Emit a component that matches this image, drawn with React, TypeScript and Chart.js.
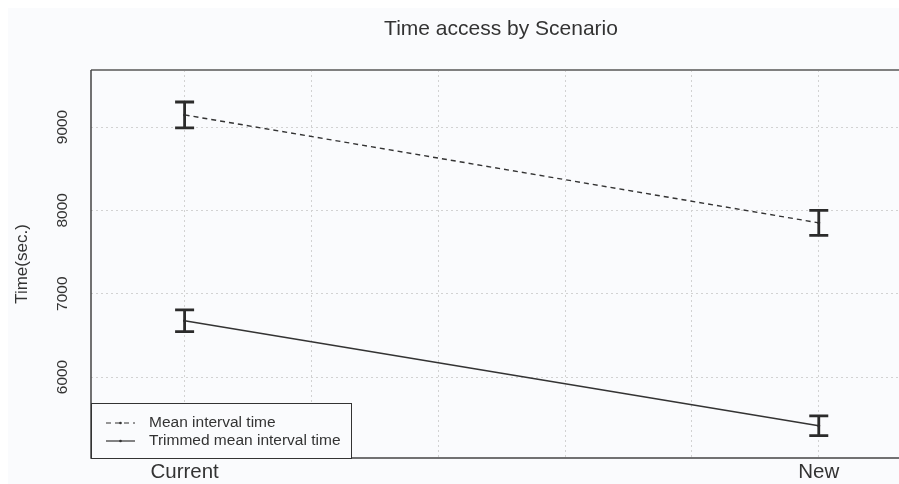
import React, { useEffect, useRef } from "react";
import { Chart, registerables } from "chart.js";

Chart.register(...registerables);

// ---- data ----
const scenarios = ["Current", "New"];
const seriesLabels = ["Mean interval time", "Trimmed mean interval time"];
const meanValues = [9145, 7850];
const meanErrors = [155, 150];
const trimmedValues = [6675, 5415];
const trimmedErrors = [130, 118];
const yTickValues = [6000, 7000, 8000, 9000];
const xGridValues = [1, 1.2, 1.4, 1.6, 1.8, 2];
const chartTitle = "Time access by Scenario";
const yAxisTitle = "Time(sec.)";

const FONT = "'Liberation Sans', Arial, Helvetica, sans-serif";
const BG = "#fafbfd";
const INK = "#333333";

const bgPlugin = {
  id: "bgFill",
  beforeDraw(chart: any) {
    const { ctx, width, height } = chart;
    ctx.save();
    ctx.fillStyle = BG;
    ctx.fillRect(0, 0, width, height);
    ctx.restore();
  },
};

const errorBarPlugin = {
  id: "errorBars",
  afterDatasetsDraw(chart: any) {
    const { ctx } = chart;
    const xs = chart.scales.x;
    const ys = chart.scales.y;
    ctx.save();
    ctx.strokeStyle = "#2b2b2b";
    ctx.lineWidth = 2.8;
    ctx.setLineDash([]);
    chart.data.datasets.forEach((ds: any) => {
      ds.data.forEach((pt: any, i: number) => {
        const e = ds.errors[i];
        const px = xs.getPixelForValue(pt.x);
        const top = ys.getPixelForValue(pt.y + e);
        const bot = ys.getPixelForValue(pt.y - e);
        const cap = 9.5;
        ctx.beginPath();
        ctx.moveTo(px, top);
        ctx.lineTo(px, bot);
        ctx.moveTo(px - cap, top);
        ctx.lineTo(px + cap, top);
        ctx.moveTo(px - cap, bot);
        ctx.lineTo(px + cap, bot);
        ctx.stroke();
      });
    });
    ctx.restore();
  },
};

const frameLegendPlugin = {
  id: "frameLegend",
  afterDraw(chart: any) {
    const { ctx, chartArea } = chart;
    const { left, top, right, bottom } = chartArea;
    ctx.save();
    // frame
    ctx.setLineDash([]);
    ctx.strokeStyle = "#808080";
    ctx.lineWidth = 2;
    ctx.beginPath();
    ctx.moveTo(left, top);
    ctx.lineTo(right, top);
    ctx.stroke();
    ctx.strokeStyle = "#444";
    ctx.lineWidth = 1.5;
    ctx.beginPath();
    ctx.moveTo(left, top);
    ctx.lineTo(left, bottom);
    ctx.lineTo(right, bottom);
    ctx.stroke();

    // legend box (bottom-left inside plot)
    const boxW = 261;
    const boxH = 55;
    const bx = left;
    const by = bottom - boxH;
    ctx.fillStyle = BG;
    ctx.fillRect(bx, by, boxW, boxH);
    ctx.strokeStyle = INK;
    ctx.lineWidth = 1;
    ctx.strokeRect(bx + 0.5, by + 0.5, boxW - 1, boxH);
    ctx.font = `15.5px ${FONT}`;
    ctx.fillStyle = INK;
    ctx.textBaseline = "middle";
    ctx.textAlign = "left";
    chart.data.datasets.forEach((ds: any, i: number) => {
      const yy = by + 20 + i * 18;
      ctx.strokeStyle = INK;
      ctx.lineWidth = 1.2;
      ctx.setLineDash(ds.borderDash || []);
      ctx.beginPath();
      ctx.moveTo(bx + 15, yy);
      ctx.lineTo(bx + 44, yy);
      ctx.stroke();
      ctx.setLineDash([]);
      ctx.beginPath();
      ctx.arc(bx + 29.5, yy, 1.3, 0, Math.PI * 2);
      ctx.fill();
      ctx.fillText(ds.label, bx + 58, yy);
    });
    ctx.restore();
  },
};

export default function App() {
  const ref = useRef<HTMLCanvasElement>(null);

  useEffect(() => {
    const datasets = [
      {
        label: seriesLabels[0],
        data: scenarios.map((_, i) => ({ x: i + 1, y: meanValues[i] })),
        errors: meanErrors,
        borderDash: [5, 4],
      },
      {
        label: seriesLabels[1],
        data: scenarios.map((_, i) => ({ x: i + 1, y: trimmedValues[i] })),
        errors: trimmedErrors,
        borderDash: [],
      },
    ].map((d) => ({
      ...d,
      borderColor: INK,
      backgroundColor: INK,
      borderWidth: 1.4,
      pointRadius: 1.5,
      pointBorderWidth: 0,
      tension: 0,
      fill: false,
    }));

    const chart = new Chart(ref.current as HTMLCanvasElement, {
      type: "line",
      data: { datasets: datasets as any },
      options: {
        animation: false,
        responsive: false,
        maintainAspectRatio: false,
        layout: { padding: 0 },
        plugins: {
          legend: { display: false },
          tooltip: { enabled: false },
          title: {
            display: true,
            text: chartTitle,
            color: INK,
            font: { family: FONT, size: 21, weight: "normal" },
            padding: { top: 9, bottom: 27.8 },
          },
        },
        scales: {
          x: {
            type: "linear",
            min: 0.8524,
            max: 2.27,
            afterBuildTicks(scale: any) {
              scale.ticks = xGridValues.map((v) => ({ value: v }));
            },
            afterFit(scale: any) {
              scale.height = 26;
            },
            ticks: {
              autoSkip: false,
              maxRotation: 0,
              minRotation: 0,
              padding: 2,
              color: INK,
              font: { family: FONT, size: 20.5 },
              callback: (v: any) => {
                const idx = Math.round(Number(v)) - 1;
                return Math.abs(Number(v) - (idx + 1)) < 1e-6 ? scenarios[idx] ?? "" : "";
              },
            },
            grid: { color: "#d2d2d2", lineWidth: 1, drawTicks: false },
            border: { display: false, dash: [2, 3] },
          },
          y: {
            type: "linear",
            min: 5028,
            max: 9684,
            afterBuildTicks(scale: any) {
              scale.ticks = yTickValues.map((v) => ({ value: v }));
            },
            afterFit(scale: any) {
              scale.width = 83;
            },
            title: {
              display: true,
              text: yAxisTitle,
              color: INK,
              font: { family: FONT, size: 17 },
              padding: { top: 4, bottom: 0 },
            },
            ticks: {
              minRotation: 90,
              maxRotation: 90,
              crossAlign: "center",
              padding: 11,
              color: INK,
              font: { family: FONT, size: 15.5 },
              callback: (v: any) => String(v),
            },
            grid: { color: "#d2d2d2", lineWidth: 1, drawTicks: false },
            border: { display: false, dash: [2, 3] },
          },
        },
      },
      plugins: [bgPlugin, errorBarPlugin, frameLegendPlugin],
    });
    return () => chart.destroy();
  }, []);

  return (
    <div
      style={{
        position: "fixed",
        left: 8,
        top: 8,
        width: 891,
        height: 476,
        overflow: "hidden",
      }}
    >
      <canvas
        ref={ref}
        width={986}
        height={476}
        style={{ display: "block", width: 986, height: 476 }}
      />
    </div>
  );
}
